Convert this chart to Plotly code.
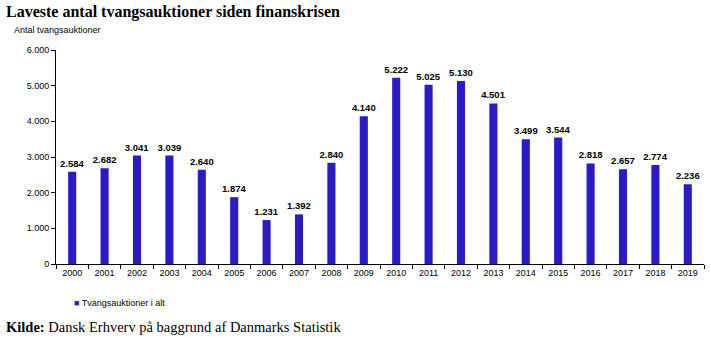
import plotly.graph_objects as go

years = [str(y) for y in range(2000, 2020)]
values = [2584, 2682, 3041, 3039, 2640, 1874, 1231, 1392, 2840, 4140,
          5222, 5025, 5130, 4501, 3499, 3544, 2818, 2657, 2774, 2236]
labels = [f"{v:,}".replace(",", ".") for v in values]
series_name = "Tvangsauktioner i alt"
y_title = "Antal tvangsauktioner"
title = "Laveste antal tvangsauktioner siden finanskrisen"
bar_color = "#2B1BC7"

L, R, T, B = 56, 7, 50, 74
W, H = 711, 338
pw, ph = W - L - R, H - T - B

def px(x):
    return (x - L) / pw

def py(y):
    return (H - B - y) / ph

fig = go.Figure()
fig.add_trace(go.Bar(
    x=years, y=values, name=series_name,
    marker=dict(color=bar_color, line=dict(width=0)),
    text=labels, textposition="outside", cliponaxis=False, constraintext="none",
    textfont=dict(family="Liberation Sans, Arial", size=9.5, color="#000000"),
    texttemplate="<b>%{text}</b>", showlegend=False,
))

fig.update_layout(
    width=W, height=H,
    margin=dict(l=L, r=R, t=T, b=B),
    paper_bgcolor="white", plot_bgcolor="white",
    separators=",.",
    bargap=0.75,
    font=dict(family="Liberation Sans, Arial", size=9, color="#000"),
    xaxis=dict(
        type="category", tickson="boundaries", ticks="outside", ticklen=4,
        tickcolor="#000", showline=True, linecolor="#000", linewidth=1,
        showgrid=False, tickfont=dict(size=9, color="#000"),
    ),
    yaxis=dict(
        range=[0, 6000], dtick=1000, tickformat=",d", ticks="outside", ticklen=4,
        tickcolor="#000", showline=True, linecolor="#000", linewidth=1,
        showgrid=False, zeroline=False, tickfont=dict(size=9, color="#000"),
    ),
)

fig.add_annotation(text=f"<b>{title}</b>", xref="paper", yref="paper",
                   x=px(4), y=py(12), xanchor="left", yanchor="middle", showarrow=False,
                   font=dict(family="Liberation Serif, Georgia, serif", size=16, color="#000"))
fig.add_annotation(text=y_title, xref="paper", yref="paper",
                   x=px(12), y=py(30), xanchor="left", yanchor="middle", showarrow=False,
                   font=dict(family="Liberation Sans, Arial", size=9, color="#000"))
fig.add_annotation(text=f"<span style='color:{bar_color}'>■</span> {series_name}",
                   xref="paper", yref="paper",
                   x=px(72), y=py(303), xanchor="left", yanchor="middle", showarrow=False,
                   font=dict(family="Liberation Sans, Arial", size=9, color="#000"))
fig.add_annotation(text="<b>Kilde:</b> Dansk Erhverv på baggrund af Danmarks Statistik",
                   xref="paper", yref="paper",
                   x=px(4), y=py(327), xanchor="left", yanchor="middle", showarrow=False,
                   font=dict(family="Liberation Serif, Georgia, serif", size=14.5, color="#000"))

fig.write_html("out.html")
